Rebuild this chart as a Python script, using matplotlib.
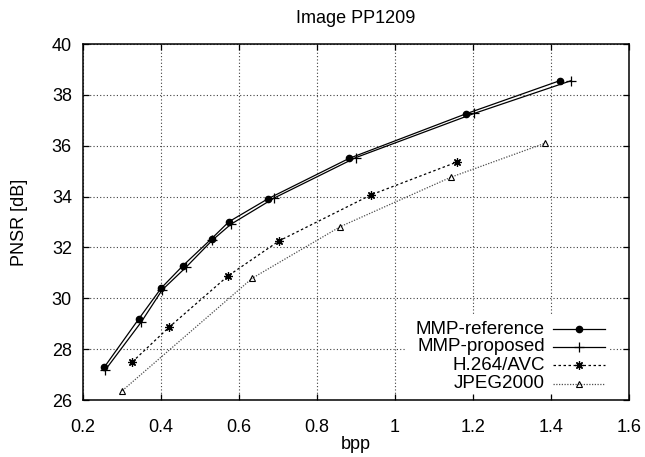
"""Rate-distortion curves for image PP1209 (gnuplot-like look)."""

import matplotlib

matplotlib.use('Agg')

import matplotlib.pyplot as plt
from matplotlib.lines import Line2D
from matplotlib.patches import Rectangle

# values
ref_bpp = [0.255, 0.343, 0.401, 0.456, 0.530, 0.574, 0.675, 0.882, 1.181, 1.423]
ref_psnr = [27.30, 29.19, 30.41, 31.28, 32.35, 33.01, 33.92, 35.50, 37.25, 38.56]

prop_bpp = [0.257, 0.349, 0.403, 0.464, 0.532, 0.579, 0.691, 0.899, 1.203, 1.452]
prop_psnr = [27.18, 29.06, 30.33, 31.22, 32.29, 32.91, 33.95, 35.53, 37.27, 38.56]

h264_bpp = [0.3265, 0.4205, 0.5718, 0.703, 0.939, 1.159]
h264_psnr = [27.50, 28.86, 30.88, 32.26, 34.07, 35.36]

jp2_bpp = [0.301, 0.634, 0.860, 1.143, 1.385]
jp2_psnr = [26.37, 30.79, 32.82, 34.76, 36.10]

labels = ['MMP-reference', 'MMP-proposed', 'H.264/AVC', 'JPEG2000']
x_ticks = [0.2, 0.4, 0.6, 0.8, 1.0, 1.2, 1.4, 1.6]
x_ticklabels = ['0.2', '0.4', '0.6', '0.8', '1', '1.2', '1.4', '1.6']
y_ticks = [26, 28, 30, 32, 34, 36, 38, 40]

plt.rcParams['font.family'] = ['Liberation Sans', 'DejaVu Sans']
plt.rcParams['font.size'] = 13

fig = plt.figure(figsize=(6.45, 4.57), dpi=100)
ax = fig.add_axes([0.1287, 0.1247, 0.8465, 0.7790])

styles = [
    dict(color='black', lw=0.9, ls='-', marker='o', ms=4.5, mfc='black'),
    dict(color='black', lw=0.9, ls='-', marker='+', ms=7, mew=0.9),
    dict(color='black', lw=0.9, ls=(0, (2, 2)), marker=(8, 2, 0), ms=6,
         mew=0.9),
    dict(color='0.3', lw=0.9, ls=(0, (1, 1.2)), marker='^', ms=5,
         mfc='none', mec='black', mew=0.8),
]
series = [(ref_bpp, ref_psnr), (prop_bpp, prop_psnr),
          (h264_bpp, h264_psnr), (jp2_bpp, jp2_psnr)]

for (xs, ys), st in zip(series, styles):
    ax.plot(xs, ys, zorder=3, **st)

ax.set_xlim(0.2, 1.6)
ax.set_ylim(26, 40)
ax.set_xticks(x_ticks)
ax.set_xticklabels(x_ticklabels)
ax.set_yticks(y_ticks)
ax.tick_params(direction='in', length=4, width=0.9, top=True, right=True)
ax.tick_params(axis='x', pad=14)
ax.tick_params(axis='y', pad=8)
ax.set_axisbelow(True)
ax.grid(True, color='0.25', ls=(0, (1, 2)), lw=0.8)
for sp in ax.spines.values():
    sp.set_linewidth(1.1)

ax.set_xlabel('bpp', labelpad=-0.5)
ax.set_ylabel('PNSR [dB]', labelpad=17)
ax.set_title('Image PP1209', fontsize=13, pad=15)

# gnuplot-style key: right-justified text, sample to its right, white box
ax.add_patch(Rectangle((0.59, 0.016), 0.375, 0.22, transform=ax.transAxes,
                       facecolor='white', edgecolor='none', zorder=1))
rows_y = [0.1994, 0.1497, 0.0983, 0.045]
for lab, st, yy in zip(labels, styles, rows_y):
    ax.text(0.846, yy, lab, transform=ax.transAxes, ha='right', va='center',
            fontsize=13.5, zorder=4)
    ax.add_line(Line2D([0.861, 0.956], [yy, yy], transform=ax.transAxes,
                       zorder=4, **{k: v for k, v in st.items()
                                    if k not in ('marker', 'ms', 'mfc',
                                                 'mec', 'mew')}))
    mk = {k: v for k, v in st.items() if k not in ('ls', 'lw')}
    ax.add_line(Line2D([0.908], [yy], transform=ax.transAxes, ls='none',
                       zorder=4, **mk))

fig.savefig('out.png', dpi=100)
